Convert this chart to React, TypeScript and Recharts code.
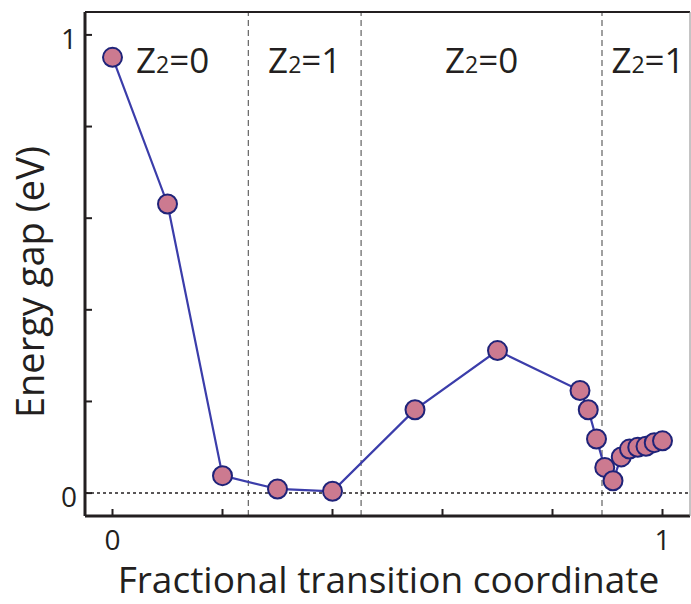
import React from 'react';
import {
  LineChart,
  Line,
  XAxis,
  YAxis,
  ReferenceLine,
  ReferenceArea,
} from 'recharts';

// fractional transition coordinate vs. band gap (eV)
const coord = [0, 0.1, 0.2, 0.3, 0.4, 0.55, 0.7, 0.85, 0.865, 0.88, 0.895, 0.91, 0.925, 0.94, 0.955, 0.97, 0.985, 1.0];
const gap = [0.951, 0.631, 0.038, 0.009, 0.004, 0.182, 0.311, 0.224, 0.182, 0.118, 0.056, 0.027, 0.079, 0.096, 0.1, 0.102, 0.11, 0.114];

// where the Z2 invariant flips, and the value on each side
const phaseBounds = [0.247, 0.452, 0.89];
const phaseValues = ['0', '1', '0', '1'];

const axisTicks = [0, 0.2, 0.4, 0.6, 0.8, 1];
const labeledTicks = [0, 1];
const domain: [number, number] = [-0.05, 1.05];

const data = coord.map((x, i) => ({ x, y: gap[i] }));

const FONT = "'Open Sans', 'Noto Sans', sans-serif";
const INK = '#231f20';

const BottomTick = (props: any) => {
  const { x, y, payload } = props;
  return (
    <g>
      <line x1={x} y1={y} x2={x} y2={y - 7} stroke={INK} strokeWidth={2} />
      {labeledTicks.includes(payload.value) && (
        <text x={x} y={y + 34} textAnchor="middle" fontSize={28} fontFamily={FONT} fill={INK}>
          {payload.value}
        </text>
      )}
    </g>
  );
};

const LeftTick = (props: any) => {
  const { x, y, payload } = props;
  return (
    <g>
      <line x1={x} y1={y} x2={x + 7} y2={y} stroke={INK} strokeWidth={2} />
      {labeledTicks.includes(payload.value) && (
        <text x={x - 8} y={y + 14} textAnchor="end" fontSize={28} fontFamily={FONT} fill={INK}>
          {payload.value}
        </text>
      )}
    </g>
  );
};

const XTitle = (props: any) => {
  const { x, y, width, height } = props.viewBox;
  return (
    <text x={x + width / 2 + 1} y={y + height - 11} textAnchor="middle" fontSize={37} fontFamily={FONT} fill={INK}>
      Fractional transition coordinate
    </text>
  );
};

const YTitle = (props: any) => {
  const { y, height } = props.viewBox;
  const cx = 44;
  const cy = y + height / 2 + 18;
  return (
    <text
      x={cx}
      y={cy}
      transform={`rotate(-90 ${cx} ${cy})`}
      textAnchor="middle"
      fontSize={38}
      fontFamily={FONT}
      fill={INK}
    >
      Energy gap (eV)
    </text>
  );
};

const phaseLabel = (value: string, shift: number) => (props: any) => {
  const { x, y, width } = props.viewBox;
  return (
    <text x={x + width / 2 + shift} y={y + 61} textAnchor="middle" fontSize={35} fontFamily={FONT} fill={INK}>
      Z<tspan fontSize={23}>2</tspan>=
      {value}
    </text>
  );
};

const edges = [domain[0], ...phaseBounds, domain[1]];

export default function App() {
  return (
    <div style={{ position: 'absolute', left: 0, top: 0, background: '#fff' }}>
      <LineChart width={691} height={604} data={data} margin={{ top: 12, right: 1, bottom: 0, left: 0 }}>
        <XAxis
          xAxisId="b"
          dataKey="x"
          type="number"
          domain={domain}
          allowDataOverflow
          ticks={axisTicks}
          height={88}
          tickSize={0}
          tickMargin={0}
          tickLine={false}
          tick={<BottomTick />}
          axisLine={{ stroke: INK, strokeWidth: 3 }}
          label={<XTitle />}
        />
        <XAxis
          xAxisId="top"
          dataKey="x"
          orientation="top"
          mirror
          type="number"
          domain={domain}
          allowDataOverflow
          ticks={axisTicks}
          height={1}
          tickSize={7}
          tick={false}
          tickLine={{ stroke: INK, strokeWidth: 2 }}
          axisLine={{ stroke: INK, strokeWidth: 2 }}
        />
        <YAxis
          yAxisId="l"
          type="number"
          domain={domain}
          allowDataOverflow
          ticks={axisTicks}
          width={85}
          tickSize={0}
          tickMargin={0}
          tickLine={false}
          tick={<LeftTick />}
          axisLine={{ stroke: INK, strokeWidth: 3 }}
          label={<YTitle />}
        />
        <YAxis
          yAxisId="right"
          orientation="right"
          mirror
          type="number"
          domain={domain}
          allowDataOverflow
          ticks={axisTicks}
          width={1}
          tickSize={7}
          tick={false}
          tickLine={{ stroke: INK, strokeWidth: 2 }}
          axisLine={{ stroke: '#8a8a8a', strokeWidth: 1 }}
        />
        {phaseValues.map((v, i) => (
          <ReferenceArea
            key={`phase-${i}`}
            xAxisId="b"
            yAxisId="l"
            x1={edges[i]}
            x2={edges[i + 1]}
            fill="none"
            fillOpacity={0}
            stroke="none"
            label={phaseLabel(v, i === 0 ? 6 : i === 3 ? 2 : 0)}
          />
        ))}
        {phaseBounds.map((b) => (
          <ReferenceLine
            key={`bound-${b}`}
            xAxisId="b"
            yAxisId="l"
            x={b}
            stroke="#6d6d6d"
            strokeWidth={1.3}
            strokeDasharray="6 4"
          />
        ))}
        <ReferenceLine xAxisId="b" yAxisId="l" y={0} stroke={INK} strokeWidth={1.5} strokeDasharray="3 3" />
        {/* invisible copy so the top/right frame axes have a series to scale */}
        <Line
          xAxisId="top"
          yAxisId="right"
          dataKey="y"
          stroke="none"
          dot={false}
          activeDot={false}
          isAnimationActive={false}
        />
        <Line
          xAxisId="b"
          yAxisId="l"
          type="linear"
          dataKey="y"
          stroke="#3b3daa"
          strokeWidth={2.2}
          dot={{ r: 9.5, fill: '#cc7a90', stroke: '#1f2379', strokeWidth: 2 }}
          isAnimationActive={false}
        />
      </LineChart>
    </div>
  );
}
